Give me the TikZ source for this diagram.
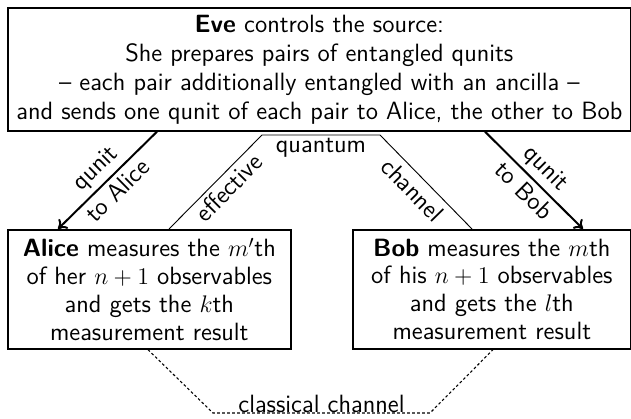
\documentclass[tikz,border=0pt]{standalone}
\usetikzlibrary{arrows.meta,calc}
\begin{document}
\begin{tikzpicture}[x=0.6pt,y=-0.6pt,
  box/.style={draw, line width=1pt, align=center, inner sep=0pt,
    font=\sffamily\fontsize{15}{15.2}\selectfont},
  lab/.style={font=\sffamily\fontsize{15}{16.5}\selectfont, inner sep=1.5pt},
  qarrow/.style={line width=1.2pt, -{To[length=5pt,width=8pt]}},
  qchan/.style={line width=0.55pt},
  cchan/.style={line width=0.65pt, dash pattern=on 1.6pt off 1.4pt}]
\useasboundingbox (0,0) rectangle (631,419);
\node[box, anchor=north west, minimum width=623*0.6pt, minimum height=123*0.6pt] (eve) at (7,7)
  {\textbf{Eve} controls the source:\\[2.2pt]She prepares pairs of entangled qunits\\[2.2pt]– each pair additionally entangled with an ancilla –\\[2.2pt]and sends one qunit of each pair to Alice, the other to Bob};
\node[box, anchor=north west, minimum width=283*0.6pt, minimum height=119*0.6pt] (alice) at (7,229)
  {\textbf{Alice} measures the $m'$th\\[1.5pt]of her $n+1$ observables\\[1.5pt]and gets the $k$th\\[1.5pt]measurement result};
\node[box, anchor=north west, minimum width=278*0.6pt, minimum height=119*0.6pt] (bob) at (352,229)
  {\textbf{Bob} measures the $m$th\\[1.5pt]of his $n+1$ observables\\[1.5pt]and gets the $l$th\\[1.5pt]measurement result};
% quantum arrows
\draw[qarrow] ($(eve.south west)+(150,0)$) --
  node[lab, sloped, above, inner sep=2.5pt] {qunit}
  node[lab, sloped, below, inner sep=2.5pt] {to Alice} ($(alice.north west)+(51,0)$);
\draw[qarrow] ($(eve.south west)+(478,0)$) --
  node[lab, sloped, above, inner sep=2.5pt] {qunit}
  node[lab, sloped, below, inner sep=2.5pt] {to Bob} ($(bob.north west)+(231,0)$);
% effective quantum channel
\coordinate (q1) at (262,135);
\coordinate (q2) at (380,135);
\draw[qchan] ($(alice.north west)+(162,0)$) -- node[lab, sloped, below, pos=0.54, inner sep=2.5pt] {effective} (q1)
  -- node[lab, below, inner sep=1.5pt] {quantum} (q2)
  -- node[lab, sloped, below, pos=0.47, inner sep=3.5pt] {channel} ($(bob.north west)+(120,0)$);
% classical channel
\coordinate (c1) at (213,413);
\coordinate (c2) at (430,413);
\draw[cchan] ($(alice.south west)+(141,0)$) -- (c1)
  -- node[lab, above, inner sep=0pt] {classical channel} (c2)
  -- ($(bob.south west)+(141,0)$);
\end{tikzpicture}
\end{document}
